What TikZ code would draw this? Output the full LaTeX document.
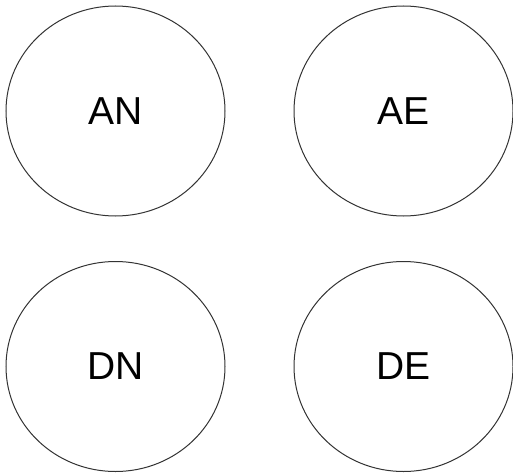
\documentclass[tikz,border=0pt]{standalone}
\usepackage{fontspec}
\setmainfont{Liberation Sans}
\usetikzlibrary{shapes.geometric}
\begin{document}
\begin{tikzpicture}[x=1pt,y=-1pt,
  oval/.style={draw=black!80,line width=1pt,ellipse,minimum width=219pt,minimum height=210pt,inner sep=0pt,font=\fontsize{39}{39}\selectfont}]
\useasboundingbox (0,0) rectangle (513,473);
\node[oval] (AN) at (115.5,111) {AN};
\node[oval] (AE) at (403.5,111) {AE};
\node[oval] (DN) at (115.5,366.5) {DN};
\node[oval] (DE) at (403.5,366.5) {DE};
\end{tikzpicture}
\end{document}
